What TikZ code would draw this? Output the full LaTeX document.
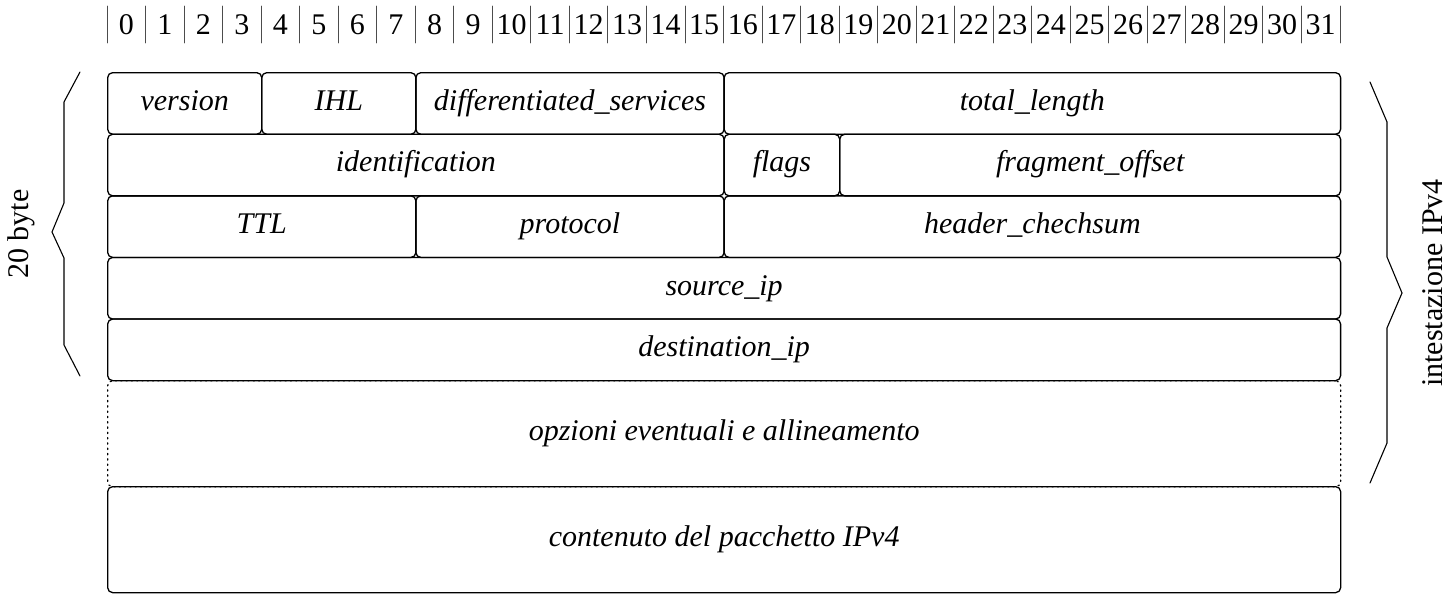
\documentclass[tikz,border=0pt]{standalone}
\usepackage{fontspec}
\setmainfont{Liberation Serif}

\tikzset{
  field/.style={draw,line width=0.65pt,rounded corners=2.5pt,inner sep=0pt,
    anchor=north west,font=\itshape,text height=0.68em,text depth=0.22em},
  optfield/.style={field,dotted},
  bitbar/.style={black!70,line width=0.45pt},
  bracket/.style={line width=0.55pt}
}

\begin{document}
\fontsize{15}{18}\selectfont
\begin{tikzpicture}[x=0.5pt,y=-0.5pt,line cap=round,line join=round]
        \useasboundingbox (0,0) rectangle (1456,594);

        % bit ruler
        \foreach \k in {0,...,32} {
            \draw[bitbar] ({107+38.53*\k},6) -- ({107+38.53*\k},43);
        }
        \foreach \k in {0,...,31} {
            \node (bit\k) at ({107+38.53*(\k+0.5)},25) {\k};
        }

        % header fields: name/first bit/bits/row/label
        \foreach \name/\b/\n/\r/\lab in {
            version/0/4/0/version, ihl/4/4/0/IHL,
            dscp/8/8/0/differentiated\_services, totlen/16/16/0/total\_length,
            ident/0/16/1/identification, flags/16/3/1/flags,
            fragoff/19/13/1/fragment\_offset,
            ttl/0/8/2/TTL, proto/8/8/2/protocol, hcs/16/16/2/header\_chechsum,
            srcip/0/32/3/source\_ip, dstip/0/32/4/destination\_ip} {
            \node[field,minimum width=\n*19.265pt,minimum height=30.8pt]
                (\name) at ({107+38.53*\b},{72+61.6*\r}) {\lab};
        }
        \node[optfield,minimum width=616.5pt,minimum height=53pt]
            (opts) at (107,380) {opzioni eventuali e allineamento};
        \node[field,minimum width=616.5pt,minimum height=53pt]
            (payload) at (107,486) {contenuto del pacchetto IPv4};

        % braces
        \draw[bracket] (80,72) -- (64,102) -- (64,203) -- (52,232)
            -- (64,258) -- (64,345) -- (80,376);
        \node[rotate=90] (bytes) at (21,234) {20 byte};

        \draw[bracket] (1370,82) -- (1387,122) -- (1387,257) -- (1402,293)
            -- (1387,328) -- (1387,443) -- (1370,483);
        \node[rotate=90] (header) at (1433,283) {intestazione IPv4};
\end{tikzpicture}
\end{document}
